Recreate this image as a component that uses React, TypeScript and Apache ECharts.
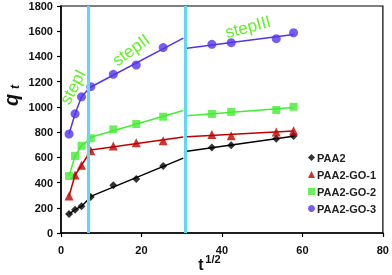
import React, { useEffect, useRef } from "react";
import * as echarts from "echarts";

// t^(1/2) values (x) shared by all series
const sqrtT = [2.0, 3.5, 5.1, 7.4, 13.0, 18.7, 25.4, 37.5, 42.3, 53.5, 57.8];
const paa2 = [150, 185, 212, 285, 378, 428, 531, 678, 695, 748, 769];
const paa2go1 = [293, 460, 537, 652, 690, 716, 732, 782, 771, 801, 811];
const paa2go2 = [452, 611, 692, 751, 822, 864, 922, 944, 960, 975, 1001];
const paa2go3 = [785, 945, 1080, 1160, 1258, 1332, 1470, 1496, 1509, 1541, 1588];

const seriesNames = ["PAA2", "PAA2-GO-1", "PAA2-GO-2", "PAA2-GO-3"];
const seriesColors = ["#000000", "#c00000", "#44ee33", "#5533ee"];
const seriesSymbols = ["diamond", "triangle", "rect", "circle"];
const seriesSizes = [8, 9, 8, 9];
const stepBounds = [6.7, 31];
const stepNames = ["stepI", "stepII", "stepIII"];
const xTicks = [0, 20, 40, 60, 80];
const yTicks = [0, 200, 400, 600, 800, 1000, 1200, 1400, 1600, 1800];

const allValues = [paa2, paa2go1, paa2go2, paa2go3];

function linFit(px: number[], py: number[]) {
  const n = px.length;
  const mx = px.reduce((a, b) => a + b, 0) / n;
  const my = py.reduce((a, b) => a + b, 0) / n;
  let sxy = 0, sxx = 0;
  for (let i = 0; i < n; i++) {
    sxy += (px[i] - mx) * (py[i] - my);
    sxx += (px[i] - mx) * (px[i] - mx);
  }
  const k = sxx ? sxy / sxx : 0;
  return (x: number) => my + k * (x - mx);
}

export default function App() {
  const ref = useRef<HTMLDivElement>(null);
  useEffect(() => {
    if (!ref.current) return;
    const chart = echarts.init(ref.current, null, { renderer: "svg" });
    const font = "'Liberation Sans', Arial, sans-serif";
    const series: any[] = [];
    allValues.forEach((vals, si) => {
      const color = seriesColors[si];
      const i1 = sqrtT.map((x, i) => i).filter((i) => sqrtT[i] < stepBounds[0]);
      const i2 = sqrtT.map((x, i) => i).filter((i) => sqrtT[i] >= stepBounds[0] && sqrtT[i] < stepBounds[1]);
      const i3 = sqrtT.map((x, i) => i).filter((i) => sqrtT[i] >= stepBounds[1]);
      const seg1 = [...i1, i2[0]].map((i) => [sqrtT[i], vals[i]]);
      const f2 = linFit(i2.map((i) => sqrtT[i]), i2.map((i) => vals[i]));
      const xa = sqrtT[i2[0]];
      const xb = stepBounds[1] - 0.6;
      const seg2 = [[xa, f2(xa)], [xb, f2(xb)]];
      const f3 = linFit(i3.map((i) => sqrtT[i]), i3.map((i) => vals[i]));
      const xc = stepBounds[1] + 0.3;
      const xd = sqrtT[i3[i3.length - 1]];
      const seg3 = [[xc, f3(xc)], [xd, f3(xd)]];
      [seg1, seg2, seg3].forEach((seg) => {
        series.push({
          type: "line",
          data: seg,
          showSymbol: false,
          symbol: "none",
          lineStyle: { color, width: 1.5 },
          z: 2,
          silent: true,
        });
      });
      series.push({
        name: seriesNames[si],
        type: "scatter",
        data: sqrtT.map((x, i) => [x, vals[i]]),
        symbol: seriesSymbols[si],
        symbolSize: seriesSizes[si],
        itemStyle: { color },
        z: 4,
      });
    });
    series.push({
      type: "line",
      data: [],
      markLine: {
        silent: true,
        symbol: "none",
        label: { show: false },
        lineStyle: { color: "#5fd8f5", width: 3, type: "solid" },
        data: stepBounds.map((b) => ({ xAxis: b })),
      },
      z: 1,
    });

    chart.setOption({
      animation: false,
      grid: { left: 61, right: 8, top: 6, bottom: 42, show: true, borderColor: "#000", borderWidth: 1.2 },
      xAxis: {
        type: "value",
        min: xTicks[0],
        max: xTicks[xTicks.length - 1],
        interval: 20,
        axisLine: { show: true, lineStyle: { color: "#000", width: 1.5 } },
        axisTick: { show: true, inside: false, length: 4, lineStyle: { color: "#000", width: 1.2 } },
        splitLine: { show: false },
        axisLabel: { fontFamily: font, fontWeight: "bold", fontSize: 11, color: "#111", margin: 11, formatter: (v: number) => String(v) },
      },
      yAxis: {
        type: "value",
        min: yTicks[0],
        max: yTicks[yTicks.length - 1],
        interval: 200,
        axisLine: { show: true, lineStyle: { color: "#000", width: 1.5 } },
        axisTick: { show: true, inside: false, length: 4, lineStyle: { color: "#000", width: 1.2 } },
        splitLine: { show: false },
        axisLabel: { fontFamily: font, fontWeight: "bold", fontSize: 11, color: "#111", margin: 8, formatter: (v: number) => String(v) },
      },
      legend: {
        orient: "vertical",
        left: 303,
        top: 147,
        itemGap: 6,
        itemWidth: 7,
        itemHeight: 7,
        data: seriesNames,
        textStyle: { fontFamily: font, fontWeight: "bold", fontSize: 11, color: "#222", padding: [0, 0, 0, -3] },
      },
      graphic: [
        { type: "text", x: 11, y: 100, rotation: Math.PI / 2, style: { text: "q", font: `italic bold 20px ${font}`, fill: "#111", textAlign: "center", textVerticalAlign: "middle" } },
        { type: "text", x: 15, y: 87, rotation: Math.PI / 2, style: { text: "t", font: `italic bold 12px ${font}`, fill: "#111", textAlign: "center", textVerticalAlign: "middle" } },
        { type: "text", x: 201, y: 264, style: { text: "t", font: `bold 16px ${font}`, fill: "#111", textAlign: "center", textVerticalAlign: "middle" } },
        { type: "text", x: 213, y: 259, style: { text: "1/2", font: `bold 11px ${font}`, fill: "#111", textAlign: "center", textVerticalAlign: "middle" } },
        { type: "text", x: 73, y: 87, rotation: (62 * Math.PI) / 180, style: { text: stepNames[0], font: `17px ${font}`, fill: "#62ef2a", textAlign: "center", textVerticalAlign: "middle" } },
        { type: "text", x: 131, y: 50, rotation: (36 * Math.PI) / 180, style: { text: stepNames[1], font: `17px ${font}`, fill: "#62ef2a", textAlign: "center", textVerticalAlign: "middle" } },
        { type: "text", x: 248, y: 27, rotation: (15 * Math.PI) / 180, style: { text: stepNames[2], font: `17px ${font}`, fill: "#62ef2a", textAlign: "center", textVerticalAlign: "middle" } },
      ],
      series,
    });
    return () => chart.dispose();
  }, []);
  return <div ref={ref} style={{ position: "fixed", left: 0, top: 0, width: 392, height: 275 }} />;
}
